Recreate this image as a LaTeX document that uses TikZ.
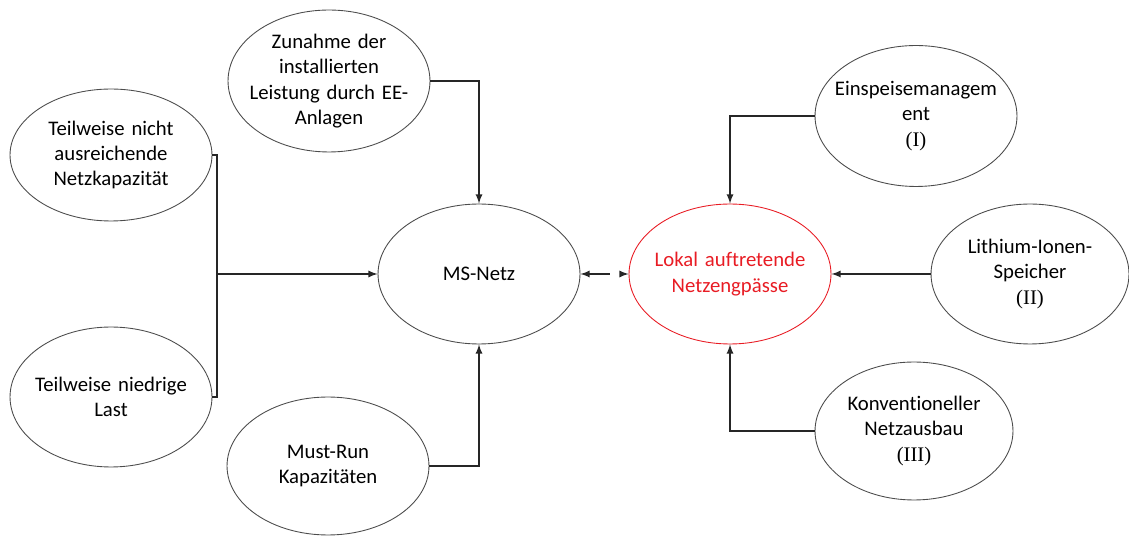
\documentclass[tikz,border=0pt]{standalone}
\usepackage{fontspec}
\setmainfont{Carlito}[Ligatures=NoCommon]
\newfontfamily\romfont{Liberation Serif}
\usetikzlibrary{shapes.geometric,
                arrows,
                positioning}
\definecolor{engred}{RGB}{232,28,36}
\newcommand{\wideline}[1]{\makebox[\linewidth]{#1}}
\tikzset{bubble/.style =
   {ellipse,
    draw = black!70,
    line width = 0.5pt,
    text centered,
    align = center,
    text width = 2.8cm,
    inner sep = 0pt,
    minimum width = 4.04cm,
    minimum height = 2.8cm}}
\tikzset{arrow/.style = {draw, black!85, line width = 0.8pt, -latex}}

\begin{document}
\begin{tikzpicture}[x=0.02cm,
                    y=-0.02cm,
                    font=\fontsize{11.8}{14.4}\selectfont]

    \useasboundingbox (0,0) rectangle (1129,536);

    \node [bubble,
           minimum height = 2.64cm] (tnetz) at (111,155)
          {Teilweise nicht\\ausreichende\\Netzkapazität};

    \node [bubble] (tlast) at (111,397)
          {\wideline{Teilweise niedrige}\\Last};

    \node [bubble,
           minimum height = 2.84cm] (zunahme) at (329,81)
          {Zunahme der\\installierten\\\wideline{Leistung durch EE-}\\Anlagen};

    \node [bubble,
           minimum height = 2.76cm] (mustrun) at (328,466)
          {Must-Run\\Kapazitäten};

    \node [bubble] (msnetz) at (479,274) {MS-Netz};

    \node [bubble,
           draw = engred,
           text = engred] (engpass) at (730,274)
          {\wideline{Lokal auftretende}\\Netzengpässe};

    \node [bubble,
           minimum height = 2.82cm] (einspeise) at (916,116)
          {\wideline{Einspeisemanagem}\\ent\\{\romfont (I)}};

    \node [bubble,
           minimum width = 3.92cm] (lithium) at (1030,274)
          {Lithium-Ionen-\\Speicher\\{\romfont (II)}};

    \node [bubble,
           minimum width = 3.96cm,
           minimum height = 2.76cm] (konvent) at (914,431)
          {\wideline{Konventioneller}\\Netzausbau\\{\romfont (III)}};

    \coordinate (bracket) at (217,274);

    \draw [black!85, line width = 0.8pt] (tnetz.east) -| (bracket) |- (tlast.east);
    \draw [arrow] (bracket) -- (msnetz.west);
    \draw [arrow] (zunahme.east) -| (msnetz.north);
    \draw [arrow] (mustrun.east) -| (msnetz.south);

    \draw [arrow,
           latex-latex,
           dash pattern = on 0.42cm off 0.22cm] (msnetz.east) -- (engpass.west);

    \draw [arrow] (einspeise.west) -| (engpass.north);
    \draw [arrow] (lithium.west) -- (engpass.east);
    \draw [arrow] (konvent.west) -| (engpass.south);

\end{tikzpicture}
\end{document}
